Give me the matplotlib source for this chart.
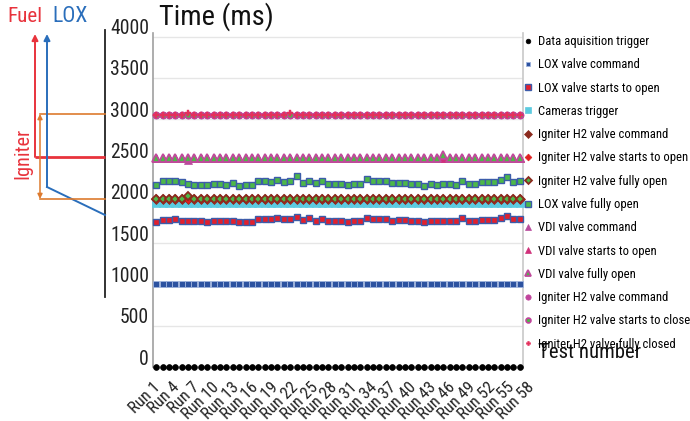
import matplotlib
matplotlib.use('Agg')
import matplotlib.pyplot as plt
from matplotlib import font_manager
from matplotlib.font_manager import FontProperties
from matplotlib.textpath import TextPath
import numpy as np
from matplotlib.transforms import ScaledTranslation, blended_transform_factory

plt.rcParams['font.family'] = ['Liberation Sans', 'DejaVu Sans']

# ---------------- choose the narrowest sans font available ----------------
SAMPLE = "Data aquisition trigger"
ok_prefix = ('Liberation Sans', 'DejaVu Sans', 'Noto Sans', 'Roboto', 'Open Sans', 'Lato', 'Inter')
best, best_ratio = None, 1e9
for f in font_manager.fontManager.ttflist:
    if not f.name.startswith(ok_prefix):
        continue
    if 'Mono' in f.name or 'CJK' in f.name or f.style != 'normal':
        continue
    if str(f.weight) not in ('400', 'normal', 'regular', 'book'):
        continue
    try:
        fp = FontProperties(fname=f.fname)
        w = TextPath((0, 0), SAMPLE, size=10, prop=fp).get_extents().width
        h = TextPath((0, 0), "H", size=10, prop=fp).get_extents().height
        r = w / h
    except Exception:
        continue
    if r < best_ratio:
        best, best_ratio = f, r
FNAME = best.fname if best is not None else None


def fprop(text, px):
    """Font properties sized so that `text` is about `px` pixels wide."""
    base = FontProperties(fname=FNAME) if FNAME else FontProperties(family='DejaVu Sans')
    w10 = TextPath((0, 0), text, size=10, prop=base).get_extents().width
    size = px * 0.72 * 10 / w10
    base.set_size(size)
    return base


# ---------------- data ----------------
runs = [f"Run {i}" for i in range(1, 59)]
n = len(runs)

data_acq = [0] * n
lox_cmd = [1005] * n
lox_start = [1753, 1781, 1781, 1789, 1773, 1773, 1765, 1765, 1753, 1773,
             1773, 1765, 1773, 1753, 1761, 1761, 1789, 1789, 1789, 1801,
             1789, 1797, 1821, 1777, 1801, 1773, 1789, 1765, 1765, 1765,
             1761, 1765, 1773, 1809, 1789, 1789, 1789, 1773, 1777, 1777,
             1773, 1765, 1757, 1769, 1769, 1769, 1769, 1773, 1801, 1765,
             1765, 1781, 1781, 1781, 1801, 1829, 1789, 1793]
cam_trig = [1983] * n
ign_cmd = [2032] * n
ign_start = [2035] * n
ign_open = [2035] * n
ign_open[5] = 2070
lox_open = [2201, 2249, 2249, 2256, 2241, 2220, 2201, 2208, 2201, 2220,
            2220, 2208, 2229, 2192, 2201, 2201, 2249, 2249, 2241, 2265,
            2244, 2253, 2310, 2225, 2249, 2229, 2249, 2213, 2216, 2216,
            2204, 2213, 2213, 2281, 2249, 2249, 2249, 2225, 2229, 2232,
            2220, 2220, 2196, 2220, 2208, 2216, 2216, 2201, 2253, 2216,
            2216, 2237, 2237, 2237, 2268, 2305, 2244, 2256]
vdi_cmd = [2535] * n
vdi_cmd[5] = 2505
vdi_start = [2535] * n
vdi_open = [2535] * n
vdi_open[45] = 2565
ign_close_cmd = [3050] * n
ign_close_start = [3050] * n
ign_closed = [3050] * n
ign_closed[5] = 3075
ign_closed[21] = 3070

labels = ["Data aquisition trigger", "LOX valve command", "LOX valve starts to open",
          "Cameras trigger", "Igniter H2 valve command", "Igniter H2 valve starts to open",
          "Igniter H2 valve fully open", "LOX valve fully open", "VDI valve command",
          "VDI valve starts to open", "VDI valve fully open", "Igniter H2 valve command",
          "Igniter H2 valve starts to close", "Igniter H2 valve fully closed"]
series = [data_acq, lox_cmd, lox_start, cam_trig, ign_cmd, ign_start, ign_open,
          lox_open, vdi_cmd, vdi_start, vdi_open, ign_close_cmd, ign_close_start, ign_closed]

ytick_vals = list(range(0, 4001, 500))

# ---------------- styles ----------------
GREEN = '#4db848'
styles = [
    dict(marker='o', mfc='black', mec='black', ms=4.2, mew=0.5),
    dict(marker='s', mfc='#2c52a0', mec='#9db2dc', ms=4.4, mew=0.6),
    dict(marker='s', mfc='#e3202c', mec='#3c5caa', ms=5.0, mew=1.0),
    dict(marker='s', mfc='#5ccbe0', mec='#5ccbe0', ms=5.2, mew=0.5),
    dict(marker='D', mfc='#8b2a1e', mec='#8b2a1e', ms=4.6, mew=0.5),
    dict(marker='D', mfc='#e02020', mec='#e02020', ms=4.3, mew=0.5),
    dict(marker='D', mfc=GREEN, mec='#8b2a1e', ms=4.4, mew=1.3),
    dict(marker='s', mfc=GREEN, mec='#3c5caa', ms=5.0, mew=1.0),
    dict(marker='^', mfc='#b84a9c', mec='#b84a9c', ms=5.8, mew=0.5),
    dict(marker='^', mfc='#d0307a', mec='#d0307a', ms=5.4, mew=0.5),
    dict(marker='^', mfc=GREEN, mec='#c04a9c', ms=5.6, mew=1.3),
    dict(marker='o', mfc='#c0449c', mec='#c0449c', ms=4.8, mew=0.5),
    dict(marker='o', mfc=GREEN, mec='#c0449c', ms=4.4, mew=1.2),
    dict(marker='P', mfc='#e4305c', mec='#e4305c', ms=4.0, mew=0.3),
]

W, H = 690, 421
fig = plt.figure(figsize=(W / 100, H / 100), dpi=100)


def fx(x):
    return x / W


def fy(y):
    return 1 - y / H


fp_leg = fprop("Data aquisition trigger", 110)
fp_tick = fprop("4000", 37)
fp_xt = fprop("Run 58", 43)
fp_title = fprop("Time (ms)", 112)
fp_test = fprop("Test number", 102)
fp_fuel = fprop("Fuel", 32)
fp_lox = fprop("LOX", 33)
fp_ign = fprop("Igniter", 49)

ax = fig.add_axes([fx(153), fy(367.3), fx(523) - fx(153), fy(33.2) - fy(367.3)])
x = np.arange(1, n + 1)
handles = []
for vals, st in zip(series, styles):
    h, = ax.plot(x, vals, linestyle='none', clip_on=False, zorder=3, **st)
    handles.append(h)

ax.set_xlim(0.5, n + 0.5)
ax.set_ylim(0, 4040)
ax.set_yticks(ytick_vals)
ax.set_yticklabels([])
ax.set_xticks([])
ax.tick_params(axis='y', length=0)
ax.grid(axis='y', color='#e6e6e6', lw=1.0, zorder=0)
for s in ['top', 'bottom']:
    ax.spines[s].set_visible(False)
ax.spines['left'].set_color('#a0a0a0')
ax.spines['left'].set_linewidth(1.2)
ax.spines['right'].set_color('#c8c8c8')
ax.spines['right'].set_linewidth(1.2)

# category label axis (labels are spread slightly wider than the points)
axl = fig.add_axes([fx(146), fy(367.3), fx(527) - fx(146), 0.001])
axl.set_xlim(0.5, n + 0.5)
axl.set_ylim(0, 1)
axl.patch.set_alpha(0)
for s in axl.spines.values():
    s.set_visible(False)
axl.set_yticks([])
axl.set_xticks(x[::3])
axl.set_xticklabels(runs[::3], rotation=45, ha='right', rotation_mode='anchor',
                    color='#222222')
axl.tick_params(axis='x', length=0, pad=9)
off = ScaledTranslation(0.03, 0, fig.dpi_scale_trans)
for lab in axl.get_xticklabels():
    lab.set_fontproperties(fp_xt)
    lab.set_transform(lab.get_transform() + off)

# y tick labels, drawn slightly above the grid positions
trans = blended_transform_factory(ax.transAxes, ax.transData) + \
    ScaledTranslation(-0.04, 0.08, fig.dpi_scale_trans)
for v in ytick_vals:
    ax.text(0, v, str(v), transform=trans, ha='right', va='center', fontproperties=fp_tick,
            color='#222222')

# titles
fig.text(fx(159), fy(17), "Time (ms)", fontproperties=fp_title, va='center', ha='left', color='#111111')
fig.text(fx(538), fy(352), "Test number", fontproperties=fp_test, va='center', ha='left', color='#111111')

# legend
fig.legend(handles, labels, loc='upper left', bbox_to_anchor=(fx(524), fy(35)),
           frameon=False, prop=fp_leg, handlelength=0.6, handletextpad=0.5,
           labelspacing=0.81, borderpad=0, borderaxespad=0, markerscale=0.8)

# left annotation overlay (pixel coordinates)
ov = fig.add_axes([0, 0, 1, 1], zorder=5)
ov.set_xlim(0, W)
ov.set_ylim(H, 0)
ov.axis('off')
ov.patch.set_alpha(0)
RED = '#e8333c'
BLUE = '#2a6ebb'
ORANGE = '#dd7a2e'
ov.text(7, 17, "Fuel", color=RED, fontproperties=fp_fuel, va='center', ha='left')
ov.text(52, 17, "LOX", color=BLUE, fontproperties=fp_lox, va='center', ha='left')
ov.text(23, 153, "Igniter", color=RED, fontproperties=fp_ign, va='center', ha='center', rotation=90)
ov.plot([105, 105], [30, 297], color='#222222', lw=1.3)
ov.annotate('', xy=(35, 34), xytext=(35, 157),
            arrowprops=dict(arrowstyle='-|>', color=RED, lw=1.4, mutation_scale=9, shrinkA=0, shrinkB=0))
ov.plot([35, 105], [157, 157], color=RED, lw=2.0, solid_capstyle='butt')
ov.annotate('', xy=(47, 34), xytext=(47, 187),
            arrowprops=dict(arrowstyle='-|>', color=BLUE, lw=1.4, mutation_scale=9, shrinkA=0, shrinkB=0))
ov.plot([47, 105], [187, 215], color=BLUE, lw=1.4)
ov.plot([40, 105], [114, 114], color=ORANGE, lw=1.2)
ov.plot([40, 105], [199, 199], color=ORANGE, lw=1.2)
ov.annotate('', xy=(40, 114), xytext=(40, 199),
            arrowprops=dict(arrowstyle='<|-|>', color=ORANGE, lw=1.1, mutation_scale=7, shrinkA=0, shrinkB=0))

fig.savefig('out.png', dpi=100)
